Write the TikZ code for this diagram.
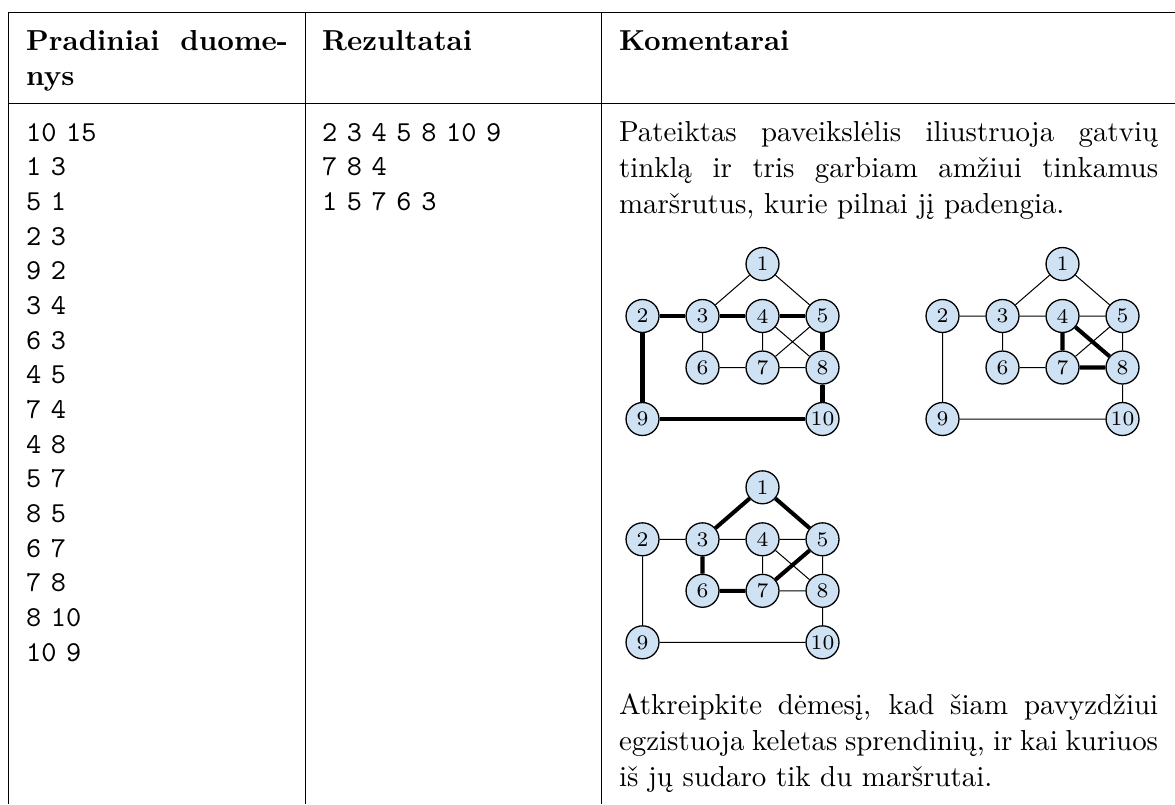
\documentclass[tikz,border=0pt]{standalone}
\usepackage{fontspec}
\usepackage{tikz}
\usetikzlibrary{positioning}
\definecolor{nodeblue}{RGB}{207,226,243}
\hyphenpenalty=10000
\exhyphenpenalty=10000

\begin{document}
\begin{tikzpicture}[font=\fontsize{10}{12.5}\selectfont, x=0.346pt, y=-0.346pt]
\tikzstyle{rule} = [draw, line width=0.4pt]
\tikzstyle{cell} = [inner sep=0pt, anchor=base west]
\tikzstyle{vertex} = [circle, draw, fill=nodeblue, inner sep=0pt,
    minimum size=11.4pt, line width=0.45pt, font=\fontsize{7.2}{8}\selectfont]
\tikzstyle{street} = [draw, line width=0.35pt]
\tikzstyle{route} = [draw, line width=1.4pt]

\useasboundingbox (0,0) rectangle (1175,804);

% table frame
\draw[rule] (8.3,12.3) -- (1180,12.3);
\draw[rule] (8.3,103.3) -- (1180,103.3);
\draw[rule] (8.3,12.3) -- (8.3,804);
\draw[rule] (305.7,12.3) -- (305.7,804);
\draw[rule] (601.7,12.3) -- (601.7,804);
\draw[rule] (1177,12.3) -- (1177,804);

% header
\node[cell, text width=90.6pt, align=justify, font=\bfseries] (head1) at (25.6,50.5) {Pradiniai duome-\linebreak nys};
\node[cell, font=\bfseries] (head2) at (321.5,50.5) {Rezultatai};
\node[cell, font=\bfseries] (head3) at (618.5,50.5) {Komentarai};

% data
\node[cell, text width=90.6pt, align=left, font=\ttfamily] (input) at (25.6,141)
    {10 15\\1 3\\5 1\\2 3\\9 2\\3 4\\6 3\\4 5\\7 4\\4 8\\5 7\\8 5\\6 7\\7 8\\8 10\\10 9};
\node[cell, text width=90.6pt, align=left, font=\ttfamily] (output) at (321.5,141)
    {2 3 4 5 8 10 9\\7 8 4\\1 5 7 6 3};

\node[cell, text width=186.5pt, align=justify] (note1) at (618.5,141)
    {Pateiktas paveikslėlis iliustruoja gatvių\linebreak tinklą ir tris garbiam amžiui tinkamus\linebreak maršrutus, kurie pilnai jį padengia.};
\node[cell, text width=186.5pt, align=justify] (note2) at (618.5,714)
    {Atkreipkite dėmesį, kad šiam pavyzdžiui\linebreak egzistuoja keletas sprendinių, ir kai kuriuos\linebreak iš jų sudaro tik du maršrutai.};

% three copies of the street network
\foreach \g/\dx/\dy in {a/0/0, b/300/0, c/0/223.3} {
  \begin{scope}[shift={(\dx,\dy)}]
    \node[vertex] (\g1) at (762.5,264) {1};
    \node[vertex] (\g2) at (642.5,316) {2};
    \node[vertex] (\g3) at (702.5,316) {3};
    \node[vertex] (\g4) at (762.5,316) {4};
    \node[vertex] (\g5) at (822.5,316) {5};
    \node[vertex] (\g6) at (702.5,367.5) {6};
    \node[vertex] (\g7) at (762.5,367.5) {7};
    \node[vertex] (\g8) at (822.5,367.5) {8};
    \node[vertex] (\g9) at (642.5,419) {9};
    \node[vertex] (\g10) at (822.5,419) {10};
  \end{scope}
  \draw[street] (\g1) -- (\g3) (\g5) -- (\g1) (\g2) -- (\g3) (\g9) -- (\g2)
    (\g3) -- (\g4) (\g6) -- (\g3) (\g4) -- (\g5) (\g7) -- (\g4) (\g4) -- (\g8)
    (\g5) -- (\g7) (\g8) -- (\g5) (\g6) -- (\g7) (\g7) -- (\g8) (\g8) -- (\g10)
    (\g10) -- (\g9);
}

% routes
\draw[route] (a2) -- (a3) -- (a4) -- (a5) -- (a8) -- (a10) -- (a9) -- (a2);
\draw[route] (b7) -- (b8) -- (b4) -- (b7);
\draw[route] (c1) -- (c5) -- (c7) -- (c6) -- (c3) -- (c1);

\end{tikzpicture}
\end{document}
